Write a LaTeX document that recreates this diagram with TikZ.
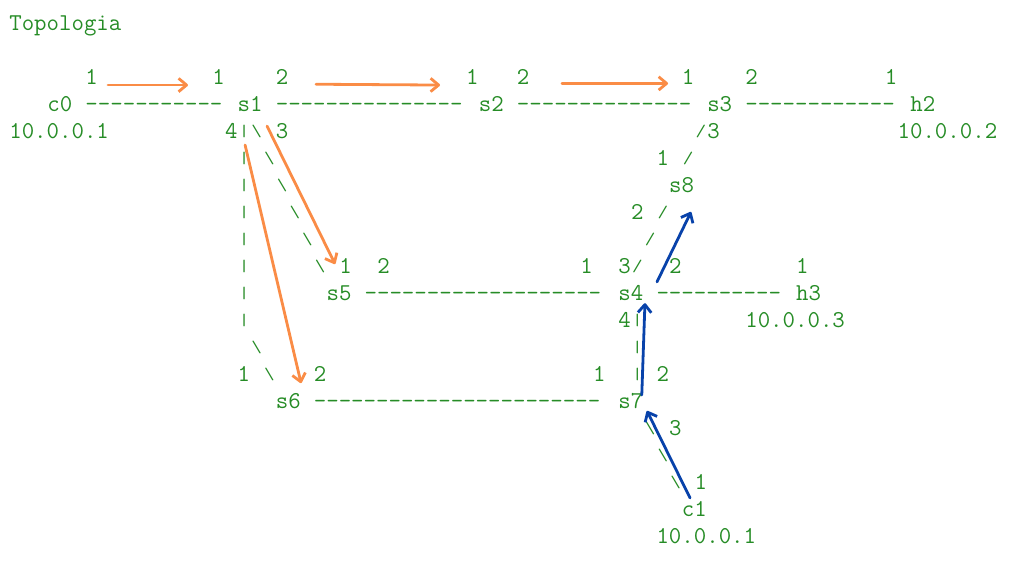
\documentclass[tikz,border=0pt]{standalone}
\usepackage{tikz}
\usepackage{xcolor}
\usepackage{graphicx}
\usetikzlibrary{arrows.meta}

\definecolor{termgreen}{RGB}{38,140,38}
\definecolor{floworange}{RGB}{250,140,70}
\definecolor{flowblue}{RGB}{8,66,170}

% a run of n hyphens, kept apart so no en/em-dash ligature forms
\newcommand{\wire}[1]{\foreach \k in {1,...,#1}{-\kern0pt}}
% short | \ / strokes, as the terminal font draws them
\newcommand{\stub}[1]{\hbox to 9.5175pt{\hss\raisebox{1.2pt}{\scalebox{0.85}[0.68]{#1}}\hss}}

\begin{document}
\begin{tikzpicture}[x=9.5175pt, y=-20.25pt,
  txt/.style={anchor=base west, inner sep=0pt, text=termgreen,
    font=\fontsize{18.13pt}{20pt}\ttfamily},
  hop/.style={line width=2.1pt, line cap=round,
    -{Straight Barb[length=6pt,width=10pt,line join=round]}}]
  \useasboundingbox (-0.713,-1.13) rectangle (79.98,19.94);
  % Title
  \node[txt] (title) at (0,0) {Topologia};
  % Ports on the top row
  \node[txt] (c0p1) at (6,2) {1};
  \node[txt] (s1p1) at (16,2) {1};
  \node[txt] (s1p2) at (21,2) {2};
  \node[txt] (s2p1) at (36,2) {1};
  \node[txt] (s2p2) at (40,2) {2};
  \node[txt] (s3p1) at (53,2) {1};
  \node[txt] (s3p2) at (58,2) {2};
  \node[txt] (h2p1) at (69,2) {1};
  % Top row: c0 - s1 - s2 - s3 - h2
  \node[txt] (c0) at (3,3) {c0};
  \node[txt] (w1) at (6,3) {\wire{11}};
  \node[txt] (s1) at (18,3) {s1};
  \node[txt] (w2) at (21,3) {\wire{15}};
  \node[txt] (s2) at (37,3) {s2};
  \node[txt] (w3) at (40,3) {\wire{14}};
  \node[txt] (s3) at (55,3) {s3};
  \node[txt] (w4) at (58,3) {\wire{12}};
  \node[txt] (h2) at (71,3) {h2};
  % Addresses
  \node[txt] (c0ip) at (0,4) {10.0.0.1};
  \node[txt] (h2ip) at (70,4) {10.0.0.2};
  % s1 down to s6
  \node[txt] (s1p4) at (17,4) {4};
  \foreach \r in {4,...,11}
    \node[txt] (v\r) at (18,\r) {\stub{|}};
  \node[txt] (v12) at (19,12) {\stub{\textbackslash}};
  \node[txt] (v13) at (20,13) {\stub{\textbackslash}};
  % s1 down to s5
  \node[txt] (s1p3) at (21,4) {3};
  \foreach \c/\r in {19/4,20/5,21/6,22/7,23/8,24/9}
    \node[txt] (d\r) at (\c,\r) {\stub{\textbackslash}};
  % s3 - s8 - s4
  \node[txt] (u4) at (54,4) {\stub{/}};
  \node[txt] (s3p3) at (55,4) {3};
  \node[txt] (s8p1) at (51,5) {1};
  \node[txt] (u5) at (53,5) {\stub{/}};
  \node[txt] (s8) at (52,6) {s8};
  \node[txt] (s8p2) at (49,7) {2};
  \node[txt] (u7) at (51,7) {\stub{/}};
  \node[txt] (u8) at (50,8) {\stub{/}};
  \node[txt] (u9) at (49,9) {\stub{/}};
  % Middle row: s5 - s4 - h3
  \node[txt] (s5p1) at (26,9) {1};
  \node[txt] (s5p2) at (29,9) {2};
  \node[txt] (s4p1) at (45,9) {1};
  \node[txt] (s4p3) at (48,9) {3};
  \node[txt] (s4p2) at (52,9) {2};
  \node[txt] (h3p1) at (62,9) {1};
  \node[txt] (s5) at (25,10) {s5};
  \node[txt] (w5) at (28,10) {\wire{19}};
  \node[txt] (s4) at (48,10) {s4};
  \node[txt] (w6) at (51,10) {\wire{10}};
  \node[txt] (h3) at (62,10) {h3};
  \node[txt] (h3ip) at (58,11) {10.0.0.3};
  % s4 down to s7
  \node[txt] (s4p4) at (48,11) {4};
  \foreach \r in {11,12,13}
    \node[txt] (q\r) at (49,\r) {\stub{|}};
  % Bottom row: s6 - s7
  \node[txt] (s6p1) at (18,13) {1};
  \node[txt] (s6p2) at (24,13) {2};
  \node[txt] (s7p1) at (46,13) {1};
  \node[txt] (s7p2) at (51,13) {2};
  \node[txt] (s6) at (21,14) {s6};
  \node[txt] (w7) at (24,14) {\wire{23}};
  \node[txt] (s7) at (48,14) {s7};
  % s7 down to c1
  \node[txt] (s7p3) at (52,15) {3};
  \foreach \c/\r in {50/15,51/16,52/17}
    \node[txt] (e\r) at (\c,\r) {\stub{\textbackslash}};
  \node[txt] (c1p1) at (54,17) {1};
  \node[txt] (c1) at (53,18) {c1};
  \node[txt] (c1ip) at (51,19) {10.0.0.1};
  % Arrow ends
  \coordinate (o1a) at (7.8,2.02);   \coordinate (o1b) at (14.1,2.02);
  \coordinate (o2a) at (24.19,1.99); \coordinate (o2b) at (33.96,2.02);
  \coordinate (o3a) at (43.57,1.96); \coordinate (o3b) at (51.93,1.96);
  \coordinate (o4a) at (20.33,3.54); \coordinate (o4b) at (25.69,8.65);
  \coordinate (o5a) at (18.60,4.24); \coordinate (o5b) at (23.01,13.06);
  \coordinate (b1a) at (51.06,9.31); \coordinate (b1b) at (53.74,6.72);
  \coordinate (b2a) at (49.86,13.5); \coordinate (b2b) at (50.11,10.10);
  \coordinate (b3a) at (53.66,17.31); \coordinate (b3b) at (50.27,14.09);
  % Orange path: c0 -> s1 -> s2 -> s3, s1 -> s5, s1 -> s6
  \draw[hop, floworange] (o1a) -- (o1b);
  \draw[hop, floworange] (o2a) -- (o2b);
  \draw[hop, floworange] (o3a) -- (o3b);
  \draw[hop, floworange] (o4a) -- (o4b);
  \draw[hop, floworange] (o5a) -- (o5b);
  % Blue path: c1 -> s7 -> s4 -> s8
  \draw[hop, flowblue] (b3a) -- (b3b);
  \draw[hop, flowblue] (b2a) -- (b2b);
  \draw[hop, flowblue] (b1a) -- (b1b);
\end{tikzpicture}
\end{document}
